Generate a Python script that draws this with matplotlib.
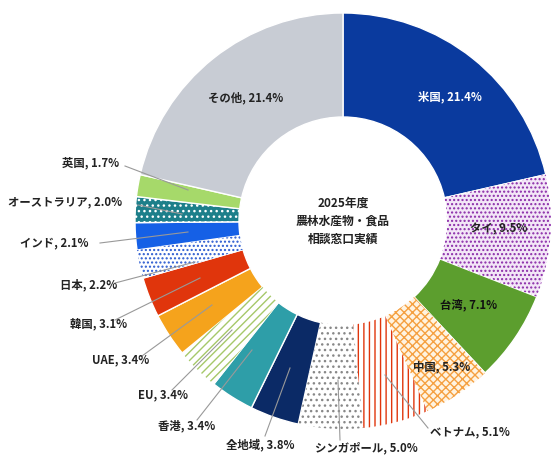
import matplotlib
matplotlib.use("Agg")
import matplotlib.pyplot as plt

plt.rcParams['font.family'] = ['Noto Sans CJK JP', 'DejaVu Sans']

labels = ["米国", "タイ", "台湾", "中国", "ベトナム", "シンガポール", "全地域", "香港", "EU",
          "UAE", "韓国", "日本", "インド", "オーストラリア", "英国", "その他"]
values = [21.4, 9.5, 7.1, 5.3, 5.1, 5.0, 3.8, 3.4, 3.4, 3.4, 3.1, 2.2, 2.1, 2.0, 1.7, 21.4]
faces = ["#0a3a9e", "#f3e6f7", "#5c9e2e", "#fff3e0", "#ffffff", "#ffffff", "#0b2a66", "#2e9ea8",
         "#ffffff", "#f5a31c", "#e0350c", "#ffffff", "#1560e6", "#1d7f8a", "#a6d96a", "#c8ccd4"]
hatch_cols = [None, "#8a2aa8", None, "#f5a040", "#e0350c", "#888888", None, None,
              "#a6c86a", None, None, "#2a5ad0", None, "#ffffff", None, None]
hatches = [None, "....", None, "xxxx", "|||", "...", None, None,
           "////", None, None, "....", None, "...", None, None]

fig = plt.figure(figsize=(5.6, 4.71), dpi=100)
ax = fig.add_axes([0, 0, 1, 1])
ax.set_xlim(0, 560); ax.set_ylim(0, 471); ax.set_aspect('equal'); ax.axis('off')
cx, cy, R = 343, 250, 208
ax.pie(values, colors=faces, startangle=90, counterclock=False, center=(cx, cy), radius=R,
       wedgeprops=dict(width=R*0.5, edgecolor='white', linewidth=1.0), frame=True)
w2, _ = ax.pie(values, colors=['none']*len(values), startangle=90, counterclock=False,
               center=(cx, cy), radius=R, wedgeprops=dict(width=R*0.5, linewidth=0), frame=True)
for w, h, c in zip(w2, hatches, hatch_cols):
    if h:
        w.set_hatch(h); w.set_edgecolor(c); w.set_linewidth(0)
ax.set_xlim(0, 560); ax.set_ylim(0, 471); ax.axis('off')

def Y(y): return 471 - y
fs = 8.2
inside = {0: (418, 97, 'left', 'white'), 1: (470, 229, 'left', '#222'), 2: (440, 305, 'left', '#111'),
          3: (413, 367, 'left', '#222'), 15: (246, 98, 'center', '#222')}
for i, (x, y, ha, col) in inside.items():
    ax.text(x, Y(y), f"{labels[i]}, {values[i]}%", ha=ha, va='center', fontsize=fs,
            fontweight='bold', color=col)
outside = {4: (430, 432, 'left', (428, 428), (385, 375)),
           5: (315, 448, 'left', (340, 440), (338, 380)),
           6: (226, 445, 'left', (265, 436), (290, 368)),
           7: (158, 426, 'left', (197, 420), (252, 350)),
           8: (138, 395, 'left', (172, 390), (232, 330)),
           9: (92, 360, 'left', (142, 356), (212, 305)),
           10: (70, 324, 'left', (115, 320), (200, 278)),
           11: (60, 285, 'left', (115, 283), (195, 262)),
           12: (20, 243, 'left', (100, 243), (188, 232)),
           13: (8, 202, 'left', (138, 205), (182, 214)),
           14: (62, 163, 'left', (125, 166), (188, 190))}
for i, (x, y, ha, p1, p2) in outside.items():
    ax.text(x, Y(y), f"{labels[i]}, {values[i]}%", ha=ha, va='center', fontsize=fs,
            fontweight='bold', color='#222')
    ax.plot([p1[0], p2[0]], [Y(p1[1]), Y(p2[1])], color='#999999', lw=0.8)
ax.text(cx, cy, "2025年度\n農林水産物・食品\n相談窓口実績", ha='center', va='center',
        fontsize=8.5, fontweight='bold', color='#222', linespacing=1.5)
fig.savefig("out.png", dpi=100, facecolor='white')
